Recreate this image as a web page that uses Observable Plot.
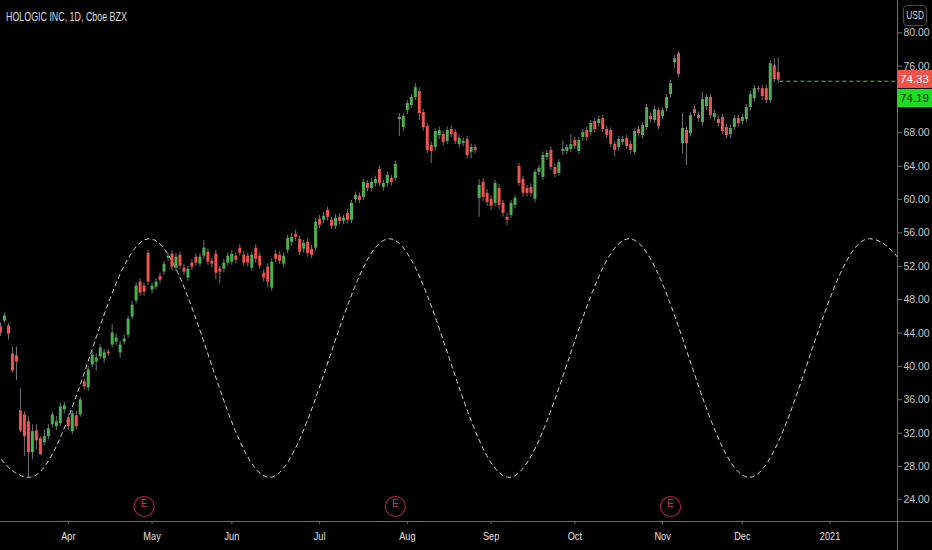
<!DOCTYPE html>
<html>
<head>
<meta charset="utf-8">
<script src="https://cdn.jsdelivr.net/npm/d3@7"></script>
<script src="https://cdn.jsdelivr.net/npm/@observablehq/plot@0.6"></script>
<style>
  html, body { margin: 0; padding: 0; background: #000; }
  #wrap { position: relative; width: 932px; height: 550px; overflow: hidden; background: #000;
          font-family: "Liberation Sans", Arial, sans-serif; }
  #title { position: absolute; left: 6px; top: 10px; font-size: 12.5px; color: #dcdcdc; white-space: nowrap;
           transform: scaleX(0.71); transform-origin: left top; }
  #usd { position: absolute; left: 903px; top: 5px; width: 22px; height: 19px; border: 1px solid #4a4a4a;
         border-radius: 4px; color: #d8d8d8; font-size: 10.5px; line-height: 19px; text-align: center; }
  #usd span { display: inline-block; transform: scaleX(0.8); }
  .plabel { position: absolute; left: 897px; width: 35px; height: 18px; line-height: 18px; font-size: 11.5px;
            text-align: center; }
  .axline { position: absolute; background: #6e6e6e; }
</style>
</head>
<body>
<div id="wrap">
  <div id="title">HOLOGIC INC, 1D, Cboe BZX</div>
  <div id="usd"><span>USD</span></div>
</div>
<script>
// ---- data (trading-day index 0 = first bar on the left, mid-March 2020) ----
const open = [
44.72,45.44,44.84,41.49,41.25,34.67,34.19,33.36,29.65,32.28,
31.32,30.84,31.56,33.00,32.76,33.12,34.79,33.83,32.16,34.07,
34.19,38.14,37.42,40.17,40.53,41.13,40.89,41.73,42.56,42.92,
41.61,42.92,43.76,45.91,47.83,50.10,49.62,53.57,49.14,49.50,
50.81,51.30,52.97,53.45,51.78,53.33,51.78,50.58,52.38,53.09,
52.26,53.21,53.69,52.61,53.45,51.66,51.66,52.38,52.49,53.21,
54.17,53.33,53.21,51.78,54.17,53.21,51.18,51.90,49.38,53.45,
53.33,52.26,53.93,54.88,55.84,55.24,54.05,54.88,54.05,54.17,
57.64,57.52,58.71,57.52,56.80,57.88,57.40,58.35,57.52,60.03,
60.39,60.27,61.94,61.34,61.94,63.62,61.46,61.94,62.54,62.54,
69.60,68.64,70.67,71.27,72.23,72.94,70.43,68.76,66.49,66.25,
67.68,67.80,66.97,68.40,68.04,66.61,66.73,67.20,65.65,66.25,
60.15,62.06,60.75,60.03,59.55,61.34,59.55,57.88,58.11,59.31,
63.97,62.42,61.34,61.46,60.03,63.26,62.66,65.05,65.89,63.86,
63.14,65.77,65.77,66.01,67.09,65.77,67.44,68.28,68.04,69.36,
69.12,69.72,68.40,68.28,66.61,66.25,66.85,67.32,66.61,65.65,
68.40,67.68,68.64,69.96,69.48,70.67,69.96,70.91,72.59,76.41,
77.49,66.73,68.28,67.92,70.79,70.07,69.24,71.15,72.23,69.84,
69.60,69.84,68.64,67.80,68.64,69.72,69.36,69.60,71.03,72.11,
73.30,73.30,73.30,71.87,76.05,75.22
];
const high = [
45.2,46.39,45.1,42.33,42.33,37.30,34.55,33.95,33.00,33.0,
31.56,32.40,33.0,34.5,34.0,35.6,35.7,34.3,34.7,34.6,
36.3,38.5,40.0,41.8,41.5,42.6,42.0,42.0,45.0,43.9,
43.0,43.8,46.0,47.8,50.0,50.5,50.0,53.9,50.0,50.5,
51.2,52.6,53.6,53.9,53.5,53.7,52.2,52.0,52.8,53.5,
53.5,55.1,54.1,53.0,53.9,52.0,52.8,53.6,53.9,53.6,
54.6,53.8,53.6,53.7,54.6,53.6,51.6,52.3,52.9,53.9,
53.8,53.6,55.7,55.9,56.3,55.6,55.1,55.3,54.5,57.7,
58.1,58.4,59.1,57.9,58.2,58.3,58.1,58.8,59.9,60.9,
60.8,62.4,62.3,62.5,62.8,64.0,62.3,63.3,62.9,64.6,
70.3,70.3,71.9,72.6,73.9,73.4,70.8,69.1,66.9,68.5,
68.7,68.2,68.7,68.8,68.4,67.7,67.4,67.6,66.6,66.6,
62.4,62.5,61.2,60.4,62.3,61.8,59.9,58.4,59.9,60.5,
64.3,62.8,61.7,61.9,63.6,64.1,65.7,65.9,66.3,64.3,
64.8,67.0,66.6,67.8,67.5,67.5,68.4,68.7,69.5,69.7,
70.0,70.1,68.8,68.6,67.0,67.6,67.6,67.7,67.0,68.5,
68.8,69.2,71.4,70.4,71.2,71.0,71.0,72.6,74.3,77.3,
77.73,70.31,68.7,70.4,71.2,70.5,72.83,72.6,72.6,70.7,
70.0,70.2,69.0,68.9,70.1,70.1,70.2,71.4,73.0,73.7,
73.6,73.7,73.7,76.65,76.89,77.0
];
const low = [
43.6,45.2,43.16,39.21,38.26,32.04,29.17,26.66,28.81,30.0,
29.29,30.48,31.2,32.6,32.3,32.8,34.3,32.3,31.8,32.4,
33.9,37.2,37.0,39.8,39.4,40.8,40.4,41.2,42.2,42.5,
41.0,42.6,43.4,45.6,47.5,48.4,48.4,49.7,48.7,49.2,
49.9,50.9,52.6,51.5,51.4,51.6,50.9,50.2,51.5,52.0,
51.9,52.8,52.1,51.8,50.4,49.9,51.2,52.0,52.1,52.3,
53.2,52.0,51.9,51.4,52.4,51.6,50.1,49.4,49.0,52.4,
52.2,51.8,53.5,54.4,55.0,53.3,53.6,53.1,52.9,53.8,
56.5,57.1,57.4,56.4,56.4,57.0,57.0,57.1,57.1,59.6,
59.5,59.9,60.9,60.9,61.5,61.5,61.0,61.5,61.6,62.2,
67.57,68.2,70.2,70.9,71.9,69.48,68.2,65.5,64.33,65.8,
67.2,66.4,66.6,67.4,66.6,66.2,66.3,64.9,64.9,65.5,
57.88,59.8,59.2,58.7,59.1,58.8,57.9,56.9,57.7,58.9,
61.6,60.3,60.3,60.3,59.6,62.9,62.3,64.7,63.5,62.6,
62.8,65.3,65.4,65.6,66.0,65.4,67.0,67.0,67.6,68.0,
68.7,68.0,67.3,66.2,65.1,65.8,66.5,66.0,65.5,65.3,
67.5,67.3,68.3,69.2,69.1,68.4,69.6,70.5,72.2,75.7,
74.6,65.5,64.09,67.5,69.9,69.3,68.8,70.7,69.7,69.4,
68.7,67.8,67.3,67.4,68.3,68.7,68.9,69.2,70.6,71.7,
72.8,71.9,71.5,71.5,74.0,73.9
];
const close = [
44.00,46.04,43.88,39.45,40.53,32.28,31.56,29.65,32.16,31.08,
29.41,31.56,32.52,34.19,33.36,35.15,35.27,32.76,34.31,32.76,
35.98,37.54,39.57,41.37,41.01,42.21,41.61,41.49,43.99,43.40,
42.56,43.28,45.67,47.35,49.62,48.78,48.90,50.10,49.62,50.10,
50.34,52.25,53.21,51.90,53.09,52.02,51.30,51.66,51.90,52.38,
53.09,54.17,52.49,52.26,51.18,51.30,52.38,53.21,53.45,52.73,
53.57,52.38,52.38,53.33,52.85,52.02,50.58,50.10,52.49,52.85,
52.61,53.21,55.36,55.48,55.48,53.69,54.76,53.57,53.33,57.28,
56.92,57.99,57.88,56.80,57.76,57.40,57.76,57.52,59.55,60.51,
59.91,62.06,61.34,62.06,62.42,61.94,61.94,62.90,62.06,64.22,
69.84,69.96,71.51,72.23,73.42,70.31,68.64,65.89,65.77,68.16,
68.28,66.85,68.28,67.80,66.97,67.32,66.97,65.29,66.25,65.89,
61.70,60.27,59.67,59.19,61.94,59.31,58.35,57.52,59.55,60.15,
61.94,60.75,60.75,60.75,63.26,63.74,65.29,65.53,63.86,63.02,
64.45,66.01,66.25,66.61,66.37,67.09,68.04,67.44,69.12,68.40,
69.60,68.40,67.68,66.61,65.89,67.20,67.20,66.37,65.89,68.16,
67.92,68.88,71.03,69.60,70.79,68.76,70.67,72.23,73.90,76.89,
74.98,68.52,66.73,70.07,70.31,69.72,71.99,72.23,70.07,70.31,
69.12,68.16,67.68,68.52,69.72,69.12,69.84,71.03,72.59,73.30,
73.18,72.35,71.87,76.29,74.38,74.33
];

// month ticks (bar index of first trading day) and labels
const monthTickIdx = [17, 38, 58, 80, 102, 123, 144, 166, 186, 208];
const monthLabels = ["Apr", "May", "Jun", "Jul", "Aug", "Sep", "Oct", "Nov", "Dec", "2021"];
// price axis ticks (72 is covered by the price labels, so it carries no text)
const priceTicks = [24, 28, 32, 36, 40, 44, 48, 52, 56, 60, 64, 68, 72, 76, 80];
const hiddenPriceTicks = [72];
// cycle line turning points (bar index, price)
const cycleIdx = [-22.9, 7.2, 37.3, 67.4, 97.5, 127.5, 157.6, 187.7, 217.8, 247.9];
const cycleVal = [55.3, 26.7, 55.3, 26.7, 55.3, 26.7, 55.3, 26.7, 55.3, 26.7];
// earnings markers (bar index)
const earningsIdx = [36, 99, 168];
// last price labels
const lastClose = 74.33;
const otherPrice = 74.19;

// ---- build ----
const candles = open.map((o, i) => ({i, o, h: high[i], l: low[i], c: close[i]}));
const ups = candles.filter(d => d.c >= d.o);
const downs = candles.filter(d => d.c < d.o);
const cycle = cycleIdx.map((x, k) => ({x, y: cycleVal[k]}));
const xMax = 224.9;
const yDomain = [21.40, 83.87];
const upColor = "#4caf50", downColor = "#ef5350";
const fmt = d3.format(".2f");

const chart = Plot.plot({
  width: 932, height: 550,
  marginLeft: 0, marginRight: 35, marginTop: 0, marginBottom: 29,
  style: {background: "#000", color: "#c8c8c8", fontFamily: '"Liberation Sans", Arial, sans-serif', fontSize: "11px", overflow: "visible"},
  x: {domain: [0, xMax], axis: null},
  y: {domain: yDomain, axis: null},
  marks: [
    Plot.axisY({anchor: "right", ticks: priceTicks, tickFormat: d => hiddenPriceTicks.includes(d) ? "" : fmt(d),
                tickSize: 4, tickPadding: 2, stroke: "#6e6e6e", fill: "#c8c8c8", fontSize: 11}),
    Plot.axisX({anchor: "bottom", ticks: monthTickIdx, tickFormat: d => monthLabels[monthTickIdx.indexOf(d)],
                tickSize: 3, tickPadding: 7, stroke: "#6e6e6e", fill: "#e0e0e0", fontSize: 11.5}),
    Plot.line(cycle, {x: "x", y: "y", curve: "monotone-x", stroke: "#d6d6d6", strokeWidth: 1,
                      strokeDasharray: "4,4", clip: true}),
    Plot.ruleX(candles, {x: "i", y1: "l", y2: "h", stroke: "#6f7179", strokeWidth: 1, clip: true}),
    Plot.ruleX(ups, {x: "i", y1: "o", y2: "c", stroke: upColor, strokeWidth: 3, clip: true}),
    Plot.ruleX(downs, {x: "i", y1: "o", y2: "c", stroke: downColor, strokeWidth: 3, clip: true}),
    Plot.ruleY([otherPrice], {x1: candles.length - 0.6, x2: xMax, stroke: "#3ad13a", strokeWidth: 1, strokeDasharray: "4,3"}),
    Plot.dot(earningsIdx, {x: d => d, frameAnchor: "bottom", dy: -15, r: 10, stroke: "#a0213c", strokeWidth: 1.2, fill: "#000"}),
    Plot.text(earningsIdx, {x: d => d, frameAnchor: "bottom", dy: -15, text: () => "E", fill: "#c9364f", fontSize: 10, ariaLabel: "earnings"})
  ]
});

const wrap = document.getElementById("wrap");
wrap.insertBefore(chart, wrap.firstChild);
chart.style.position = "absolute";
chart.style.left = "0px";
chart.style.top = "0px";

// narrow the glyphs like the reference's condensed typeface
function squeeze(selector, k) {
  chart.querySelectorAll(selector).forEach(t => {
    const L = t.getComputedTextLength();
    if (L > 0) { t.setAttribute("textLength", L * k); t.setAttribute("lengthAdjust", "spacingAndGlyphs"); }
  });
}
squeeze('g[aria-label="x-axis tick label"] text', 0.8);
squeeze('g[aria-label="y-axis tick label"] text', 0.95);
squeeze('g[aria-label="earnings"] text', 0.8);

const xs = chart.scale("x"), ys = chart.scale("y");
// axis lines
const vx = xs.apply(xMax), hy = ys.apply(yDomain[0]);
const vline = document.createElement("div");
vline.className = "axline";
Object.assign(vline.style, {left: vx + "px", top: "0px", width: "1px", height: "550px"});
wrap.appendChild(vline);
const hline = document.createElement("div");
hline.className = "axline";
Object.assign(hline.style, {left: "0px", top: hy + "px", width: "932px", height: "1px"});
wrap.appendChild(hline);

// price labels
const redTop = ys.apply(lastClose) - 10;
const red = document.createElement("div");
red.className = "plabel";
red.textContent = fmt(lastClose);
Object.assign(red.style, {top: redTop + "px", background: "#f0524a", color: "#fff"});
wrap.appendChild(red);
const green = document.createElement("div");
green.className = "plabel";
green.textContent = fmt(otherPrice);
Object.assign(green.style, {top: (redTop + 19) + "px", background: "#1fdc1f", color: "#0a2a0a"});
wrap.appendChild(green);
</script>
</body>
</html>
